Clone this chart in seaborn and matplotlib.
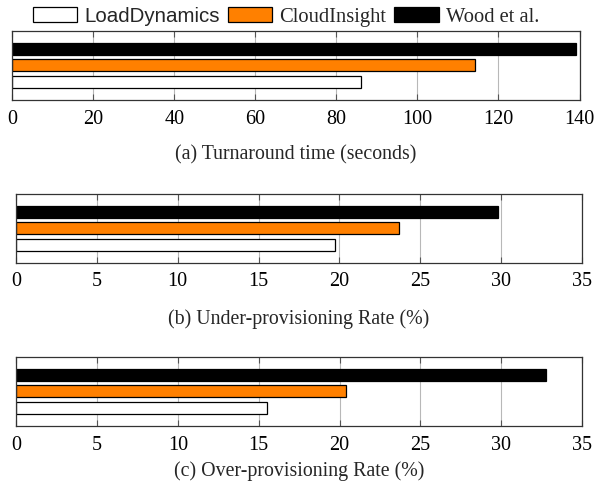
import matplotlib
matplotlib.use('Agg')
import matplotlib.pyplot as plt
from matplotlib.patches import Patch
import seaborn as sns
import pandas as pd

# methods and colours
methods = ['LoadDynamics', 'CloudInsight', 'Wood et al.']
colors = ['white', '#FF8000', 'black']

# values
turnaround = [86.0, 114.1, 139.1]
under_prov = [19.75, 23.7, 29.8]
over_prov = [15.5, 20.4, 32.8]

captions = ['(a) Turnaround time (seconds)',
            '(b) Under-provisioning Rate (%)',
            '(c) Over-provisioning Rate (%)']
xmax = [140, 35, 35]
xstep = [20, 5, 5]

sns.set_theme(style='white')
plt.rcParams['font.family'] = ['Liberation Serif', 'DejaVu Serif']

W, H = 597, 491
fig = plt.figure(figsize=(W / 100, H / 100), dpi=100)

# axes boxes in pixels: left, right, top, bottom
boxes = [(12.3, 579.5, 30.7, 100.0),
         (16.0, 582.0, 194.0, 262.7),
         (16.3, 582.0, 356.7, 426.0)]
cap_y = [154.5, 319, 471.5]

palette = dict(zip(methods, colors))
all_vals = [turnaround, under_prov, over_prov]

for i, vals in enumerate(all_vals):
    l, r, t, b = boxes[i]
    ax = fig.add_axes([l / W, 1 - b / H, (r - l) / W, (b - t) / H])
    df = pd.DataFrame({'method': methods, 'value': vals, 'cat': ['x'] * 3})
    sns.barplot(data=df, x='value', y='cat', hue='method',
                hue_order=methods[::-1], palette=palette, orient='h',
                saturation=1, gap=0.27, edgecolor='black', linewidth=0.9,
                legend=False, ax=ax)
    ax.set_ylim(0.561, -0.561)
    ax.set_xlim(0, xmax[i])
    ax.set_xticks(range(0, xmax[i] + 1, xstep[i]))
    ax.set_yticks([])
    ax.set_xlabel('')
    ax.set_ylabel('')
    ax.grid(axis='x', color='#b8b8b8', linewidth=0.8)
    ax.set_axisbelow(True)
    for s in ax.spines.values():
        s.set_color('#333333')
        s.set_linewidth(0.9)
    ax.tick_params(axis='x', direction='in', length=4, width=0.8,
                   color='#555555', top=True, bottom=True,
                   labelsize=14.5, pad=7, labelcolor='black')
    fig.text((l + r) / 2 / W, 1 - cap_y[i] / H, captions[i],
             ha='center', va='center', fontsize=14.3)

# legend at top
handles = [Patch(facecolor=c, edgecolor='black', linewidth=0.9) for c in colors]
leg = fig.legend(handles, methods, loc='center', ncol=3,
                 bbox_to_anchor=(286 / W, 1 - 16.8 / H), frameon=False,
                 fontsize=14.8, handlelength=2.15, handleheight=0.78,
                 handletextpad=0.35, columnspacing=0.4, borderpad=0)
leg.get_texts()[0].set_family(['Liberation Sans'])

fig.savefig('out.png', dpi=100)
